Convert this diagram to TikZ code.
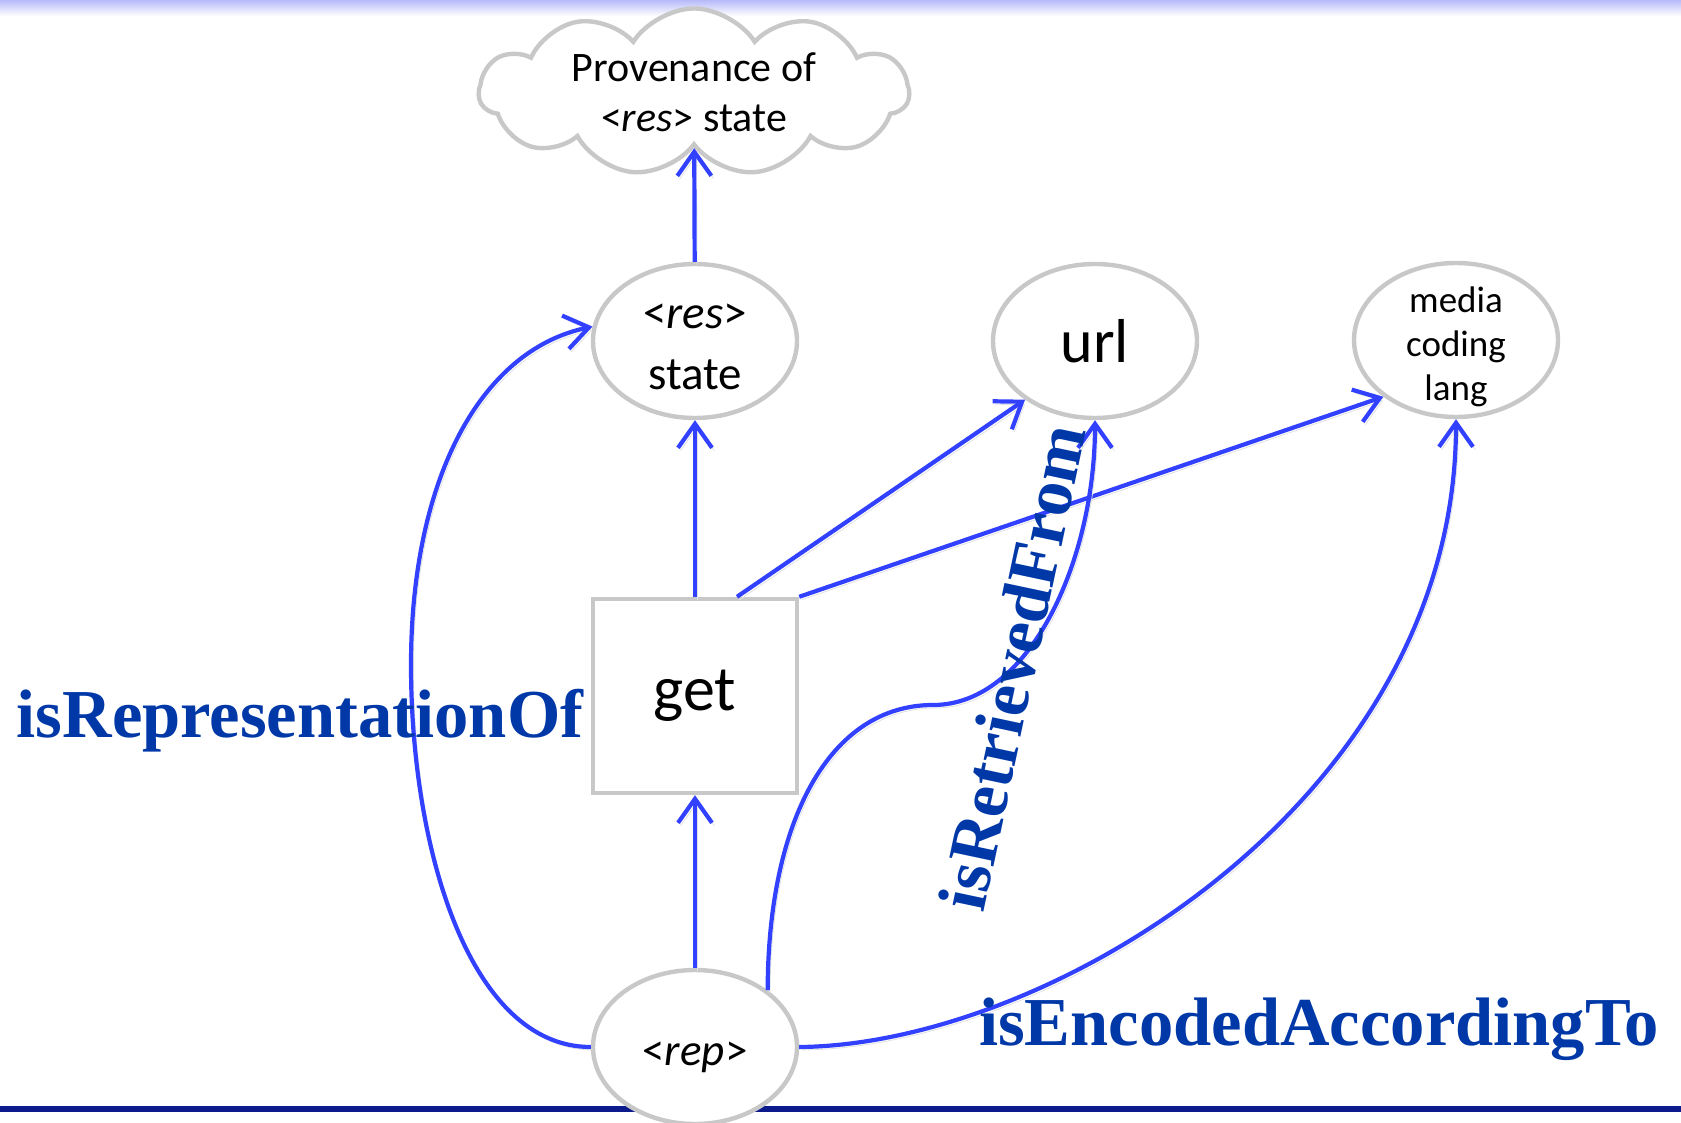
\documentclass[tikz,border=0pt]{standalone}
\usepackage{fontspec}
\setmainfont{Carlito}
\newfontfamily\relfont{Liberation Serif}
\usetikzlibrary{shapes.geometric}
\usetikzlibrary{shapes.symbols}
\usetikzlibrary{arrows.meta}

\definecolor{relblue}{RGB}{50,65,255}
\definecolor{nameblue}{RGB}{0,56,168}
\definecolor{rimgray}{RGB}{200,200,200}
\definecolor{barblue}{RGB}{12,26,140}
\definecolor{topblue}{RGB}{182,186,248}

\newcommand{\lowered}[1]{\raisebox{\dimexpr-0.25em-3.5pt\relax}[0pt][0pt]{\begin{tabular}{@{}c@{}}#1\end{tabular}}}

\tikzset{
  thing/.style={ellipse, draw=rimgray, line width=2.2pt, fill=white,
    minimum width=102pt, minimum height=77pt, inner sep=0pt, align=center},
  activity/.style={rectangle, draw=rimgray, line width=2.2pt, fill=white,
    minimum width=102pt, minimum height=97pt, inner sep=0pt},
  rel/.style={draw=relblue, line width=2.1pt,
    -{Straight Barb[length=12pt,width=17pt]},
    preaction={draw=black!12, transform canvas={xshift=1.2pt,yshift=-1.5pt}}},
  relname/.style={text=nameblue, inner sep=0pt,
    font=\relfont\bfseries\fontsize{34.3}{40}\selectfont}
}

\begin{document}
\begin{tikzpicture}[x=0.5pt,y=-0.5pt]
  \useasboundingbox (0,0) rectangle (1681,1123);

  % Slide frame
  \shade[top color=topblue, bottom color=white] (0,0) rectangle (1681,16);
  \fill[barblue] (0,1106) rectangle (1681,1112);

  % Nodes
  \node[cloud, cloud puffs=11, cloud puff arc=115, cloud ignores aspect,
    draw=rimgray, line width=2.2pt, fill=white, inner sep=1pt,
    minimum width=215pt, minimum height=68pt, align=center,
    font=\fontsize{21}{25}\selectfont]
    (prov) at (694,92) {Provenance of\\<\textit{res}> state};
  \node[thing, font=\fontsize{23.5}{28.5}\selectfont] (res) at (695,341) {\lowered{<\textit{res}>\\[2pt]state}};
  \node[thing, font=\fontsize{31}{36}\selectfont] (url) at (1095,341) {url};
  \node[thing, font=\fontsize{18.5}{22}\selectfont] (media) at (1456,340) {\lowered{media\\coding\\lang}};
  \node[activity, font=\fontsize{32}{38}\selectfont] (get) at (695,696) {get};
  \node[thing, font=\fontsize{22.5}{27}\selectfont] (rep) at (695,1047) {\lowered{<\textit{rep}>}};

  % Straight links
  \draw[rel] (res) -- (prov);
  \draw[rel] (get) -- (res);
  \draw[rel] (rep) -- (get);
  \draw[rel] ([xshift=21pt]get.north) -- (url.220);
  \draw[rel] (get.north east) -- (media.218);

  % Curved links
  \draw[rel] (rep.west) .. controls (470,1047) and (411,850) .. (411,665)
    .. controls (411,480) and (480,350) .. (res.172);
  \draw[rel] (rep.38) .. controls (768,820) and (830,705) .. (933,705)
    .. controls (1030,705) and (1095,560) .. (url.south);
  \draw[rel] (rep.east) .. controls (1050,1045) and (1456,800) .. (media.south);

  % Relation names
  \node[relname, anchor=base] (reprof) at (300,737) {isRepresentationOf};
  \node[relname, rotate=78] (retrfrom) at (1012,667) {isRetrievedFrom};
  \node[relname, anchor=base] (encto) at (1319,1045) {isEncodedAccordingTo};
\end{tikzpicture}
\end{document}
